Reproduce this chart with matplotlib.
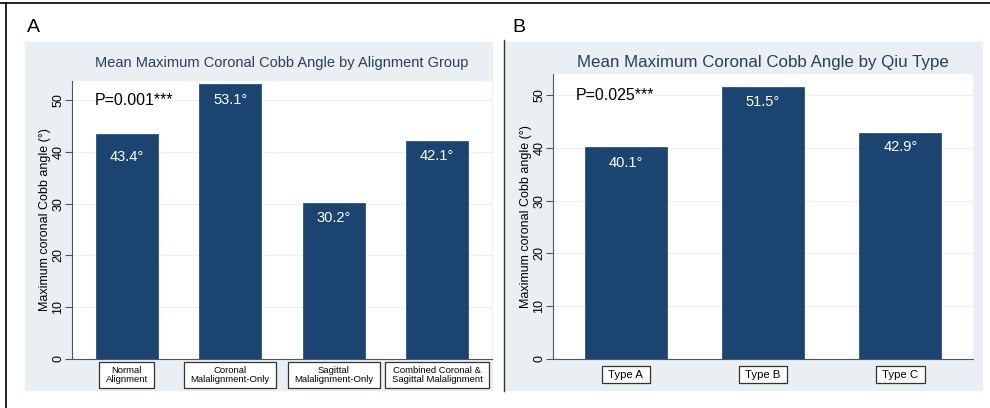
import matplotlib.pyplot as plt
from matplotlib.patches import Rectangle
from matplotlib.lines import Line2D
from matplotlib.transforms import blended_transform_factory

plt.rcParams['font.family'] = ['Liberation Sans', 'DejaVu Sans']

# Panel A data
groups_a = ['Normal\nAlignment', 'Coronal\nMalalignment-Only',
            'Sagittal\nMalalignment-Only', 'Combined Coronal &\nSagittal Malalignment']
means_a = [43.4, 53.1, 30.2, 42.1]
p_text_a = 'P=0.001***'

# Panel B data
groups_b = ['Type A', 'Type B', 'Type C']
means_b = [40.1, 51.5, 42.9]
p_text_b = 'P=0.025***'

W, H = 990, 408
bar_color = '#1b4470'
region_color = '#e9eff3'
title_color = '#2a3f5a'

fig = plt.figure(figsize=(W / 100, H / 100), dpi=100)


def px_rect(x0, y0, x1, y1):
    # pixel box (top-left origin) -> figure fraction [l, b, w, h]
    return [x0 / W, 1 - y1 / H, (x1 - x0) / W, (y1 - y0) / H]


# graph regions behind each panel
for x0, x1 in [(25, 493), (505, 983)]:
    l, b, w, h = px_rect(x0, 42, x1, 391)
    fig.patches.append(Rectangle((l, b), w, h, transform=fig.transFigure,
                                 facecolor=region_color, edgecolor='none', zorder=-5))

# outer frame lines and divider
fig.lines.append(Line2D([0, 1], [1 - 2.5 / H] * 2, transform=fig.transFigure,
                        color='black', lw=1.2, zorder=-4))
fig.lines.append(Line2D([5.5 / W] * 2, [0, 1 - 2.5 / H], transform=fig.transFigure,
                        color='black', lw=1.2, zorder=-4))
fig.lines.append(Line2D([504 / W] * 2, [1 - 391 / H, 1 - 40 / H], transform=fig.transFigure,
                        color='#333333', lw=1.0, zorder=-4))

fig.text(27 / W, 1 - 28 / H, 'A', fontsize=14, va='center', ha='left')
fig.text(512 / W, 1 - 28 / H, 'B', fontsize=14, va='center', ha='left')

cat_labels = []


def draw_panel(ax, cats, vals, ymax, title, title_size, p_text, drops, cat_size, box_y):
    x = range(len(cats))
    ax.bar(x, vals, width=0.6, color=bar_color, edgecolor='#2c5480', linewidth=0.6, zorder=3)
    ax.set_xlim(-0.53, len(cats) - 0.47)
    ax.set_ylim(0, ymax)
    ax.set_yticks([0, 10, 20, 30, 40, 50])
    ax.yaxis.grid(True, color='#eeeeee', lw=0.8, zorder=0)
    ax.set_axisbelow(True)
    for s in ['top', 'right']:
        ax.spines[s].set_visible(False)
    for s in ['left', 'bottom']:
        ax.spines[s].set_color('#555555')
        ax.spines[s].set_linewidth(0.8)
    ax.tick_params(axis='y', length=5, width=0.8, color='#555555', labelsize=9, pad=0.5)
    for t in ax.get_yticklabels():
        t.set_rotation(90)
        t.set_va('center')
    ax.set_xticks([])
    ax.set_ylabel('Maximum coronal Cobb angle (°)', fontsize=9, labelpad=1)

    # title centred over the plot area
    box = ax.get_position()
    fig.text((box.x0 + box.x1) / 2, 1 - 63 / H, title, fontsize=title_size,
             color=title_color, ha='center', va='center')

    # value labels inside bars
    for i, (v, d) in enumerate(zip(vals, drops)):
        ax.annotate(f'{v:.1f}°', (i, v), xytext=(0, -d), textcoords='offset pixels',
                    ha='center', va='center', color='white', fontsize=10.5, zorder=4)

    ax.text(0.055, 50, p_text, transform=blended_transform_factory(ax.transAxes, ax.transData),
            fontsize=11.5, va='center', ha='left')

    # category labels under the axis; boxes are added after layout
    tr = blended_transform_factory(ax.transData, ax.transAxes)
    for i, c in enumerate(cats):
        t = ax.text(i, box_y, c, transform=tr, ha='center', va='center', fontsize=cat_size,
                    linespacing=1.1, clip_on=False, zorder=5)
        cat_labels.append(t)


ax_a = fig.add_axes(px_rect(72, 81, 492, 359))
draw_panel(ax_a, groups_a, means_a, 53.7,
           'Mean Maximum Coronal Cobb Angle by Alignment Group', 10.5,
           p_text_a, [23, 16, 15, 15], 6.8, -16 / 278)

ax_b = fig.add_axes(px_rect(553, 74, 973, 359))
draw_panel(ax_b, groups_b, means_b, 54.0,
           'Mean Maximum Coronal Cobb Angle by Qiu Type', 12.2,
           p_text_b, [16, 15, 14], 8.2, -15.5 / 285)

# white boxes with a dark outline around each category label
renderer = fig.canvas.get_renderer()
for t in cat_labels:
    bb = t.get_window_extent(renderer)
    padx, pady = 6.5, 3.5
    fig.patches.append(Rectangle(((bb.x0 - padx) / W, (bb.y0 - pady) / H),
                                 (bb.width + 2 * padx) / W, (bb.height + 2 * pady) / H,
                                 transform=fig.transFigure, facecolor='white',
                                 edgecolor='#333333', linewidth=0.9, zorder=1))
    t.set_zorder(6)
    t.remove()
    fig.texts.append(t)
    t.set_figure(fig)

fig.savefig('out.png', dpi=100)
